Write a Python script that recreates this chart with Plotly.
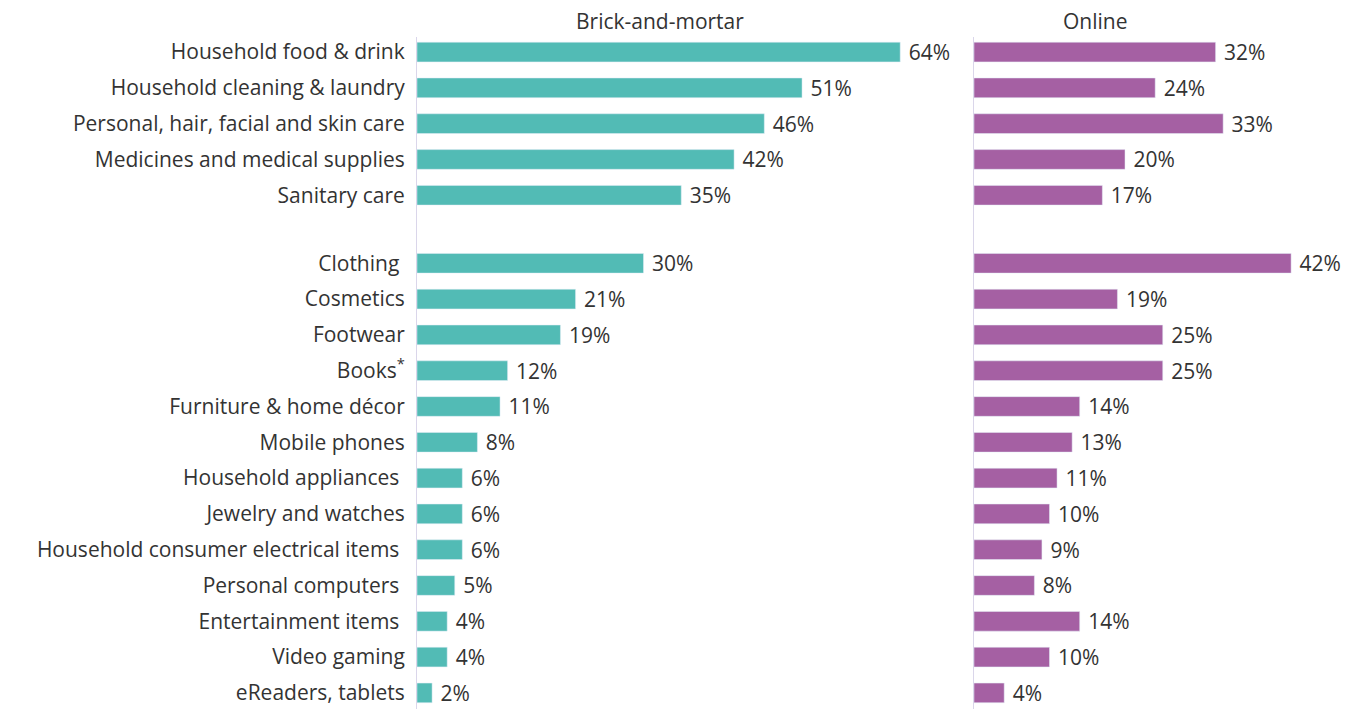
import plotly.graph_objects as go

# Share of shoppers buying each category, by channel (%)
categories = [
    "Household food & drink",
    "Household cleaning & laundry",
    "Personal, hair, facial and skin care",
    "Medicines and medical supplies",
    "Sanitary care",
    "Clothing ",
    "Cosmetics",
    "Footwear",
    "Books<sup>*</sup>",
    "Furniture & home décor",
    "Mobile phones",
    "Household appliances ",
    "Jewelry and watches",
    "Household consumer electrical items ",
    "Personal computers ",
    "Entertainment items ",
    "Video gaming",
    "eReaders, tablets",
]
brick_and_mortar = [64, 51, 46, 42, 35, 30, 21, 19, 12, 11, 8, 6, 6, 6, 5, 4, 4, 2]
online = [32, 24, 33, 20, 17, 42, 19, 25, 25, 14, 13, 11, 10, 9, 8, 14, 10, 4]
panel_titles = ["Brick-and-mortar", "Online"]

# Everyday essentials form the first block, the rest follow after a gap
first_block = 5
block_gap = 0.9
rows = [i if i < first_block else i + block_gap for i in range(len(categories))]

TEAL = "#52BBB5"
PURPLE = "#A560A3"
TEXT = "#333333"
FONT = "Open Sans"
FS = 21
W, H = 1354, 709
LEFT, TOP = 417, 37
PX_PER_PCT = 7.55

left_end = 966
right_start = 974
plot_w = W - LEFT
plot_h = H - TOP

NBSP = "\u00a0"


def bar_trace(values, color, xa, ya):
    return go.Bar(
        x=values, y=rows, orientation="h", marker_color=color,
        width=0.55, text=[f"{NBSP}{v}%" for v in values],
        textposition="outside", cliponaxis=False, constraintext="none",
        textfont=dict(family=FONT, size=FS, color=TEXT),
        outsidetextfont=dict(family=FONT, size=FS, color=TEXT),
        xaxis=xa, yaxis=ya, hoverinfo="skip",
    )


fig = go.Figure()
fig.add_trace(bar_trace(brick_and_mortar, TEAL, "x", "y"))
fig.add_trace(bar_trace(online, PURPLE, "x2", "y2"))

y_range = [rows[-1] + 0.45, -0.42]
axis_line = "#DAD6EA"


def px_x(px):
    return (px - LEFT) / plot_w


def px_y(py):
    return (H - py) / plot_h


fig.update_layout(
    width=W, height=H,
    margin=dict(l=LEFT, r=0, t=TOP, b=0),
    paper_bgcolor="white", plot_bgcolor="white",
    showlegend=False,
    font=dict(family=FONT, size=FS, color=TEXT),
    xaxis=dict(
        domain=[0, px_x(left_end)],
        range=[0, (left_end - LEFT) / PX_PER_PCT],
        visible=False, fixedrange=True,
    ),
    xaxis2=dict(
        domain=[px_x(right_start), 1],
        range=[0, (W - right_start) / PX_PER_PCT],
        visible=False, fixedrange=True,
    ),
    yaxis=dict(
        range=y_range, tickmode="array", tickvals=rows, ticktext=categories,
        showline=True, linecolor=axis_line, linewidth=1,
        showgrid=False, zeroline=False,
        ticks="outside", ticklen=7, tickcolor="rgba(0,0,0,0)",
        tickfont=dict(family=FONT, size=FS, color=TEXT),
        anchor="x",
    ),
    yaxis2=dict(
        range=y_range, showticklabels=False,
        showline=True, linecolor=axis_line, linewidth=1,
        showgrid=False, zeroline=False, anchor="x2",
    ),
    annotations=[
        dict(text=panel_titles[0], x=px_x(660), y=px_y(21)),
        dict(text=panel_titles[1], x=px_x(1095), y=px_y(21)),
    ],
)
fig.update_annotations(
    xref="paper", yref="paper", showarrow=False,
    xanchor="center", yanchor="middle",
    font=dict(family=FONT, size=FS, color=TEXT),
)

fig.write_html("out.html")
